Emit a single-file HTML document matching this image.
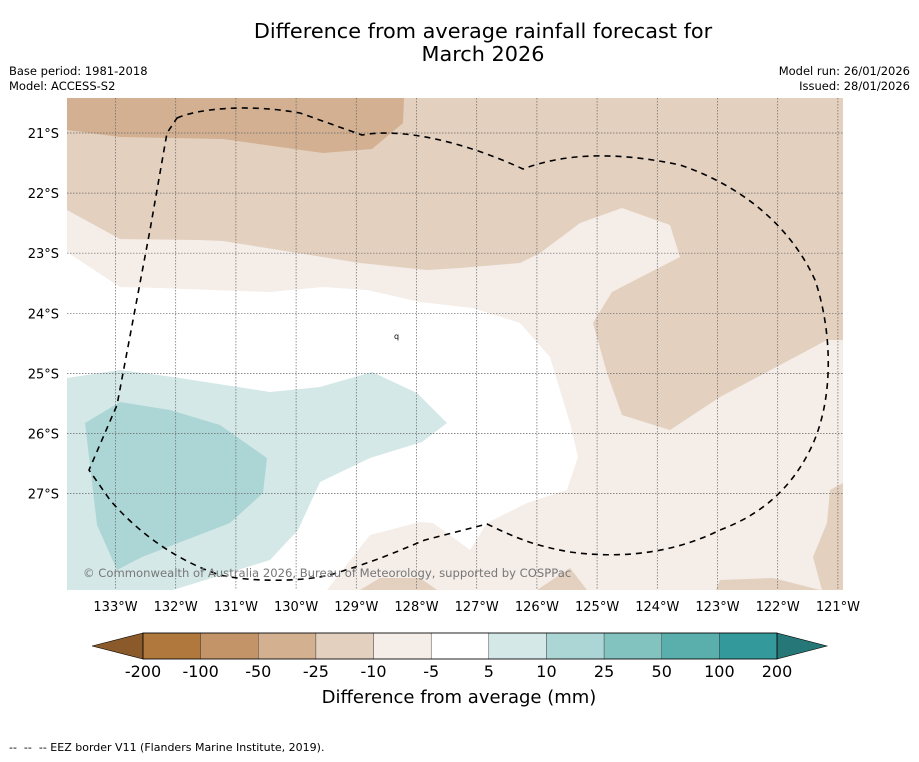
<!DOCTYPE html>
<html><head><meta charset="utf-8"><style>
body{margin:0;background:#fff;font-family:"DejaVu Sans","Liberation Sans",sans-serif;}
svg text{font-family:"DejaVu Sans","Liberation Sans",sans-serif;}
</style></head><body>
<svg id="chart" width="919" height="758" viewBox="0 0 919 758" xmlns="http://www.w3.org/2000/svg">
<rect width="919" height="758" fill="#fff"/>
<text x="483" y="38" font-size="20.8" text-anchor="middle">Difference from average rainfall forecast for</text>
<text x="483" y="61" font-size="20.8" text-anchor="middle">March 2026</text>
<text x="9" y="75" font-size="11.5">Base period: 1981-2018</text>
<text x="9" y="90" font-size="11.5">Model: ACCESS-S2</text>
<text x="910" y="75" font-size="11.5" text-anchor="end">Model run: 26/01/2026</text>
<text x="910" y="90" font-size="11.5" text-anchor="end">Issued: 28/01/2026</text>
<defs><clipPath id="mc"><rect x="67" y="98" width="776" height="492"/></clipPath></defs>
<g id="map" clip-path="url(#mc)">
<rect x="67" y="98" width="776" height="492" fill="#f4ede8"/>
<polygon fill="#e3d0bf" points="67,98 843,98 843,340 827,340 720,397 670,430 622,415 607,373 593,323 612,292 680,257 670,225 622,208 580,223 540,253 520,263 460,268 427,270 360,263 223,241 200,240 120,239 67,210"/>
<polygon fill="#d2b091" points="67,98 404,98 403,123 372,149 323,153 223,139 120,137 67,130"/>
<polygon fill="#ffffff" points="67,252 120,287 160,288 270,292 323,287 367,290 420,302 473,308 520,323 550,357 570,423 578,457 567,490 527,503 487,523 470,550 433,523 420,522 370,535 327,590 67,590"/>
<polygon fill="#d4e8e7" points="67,378 120,370 173,377 270,392 320,387 372,372 417,393 447,423 422,442 370,458 320,482 298,530 270,560 173,590 67,590"/>
<polygon fill="#acd6d5" points="85,423 120,402 170,410 220,425 267,458 263,493 230,523 142,557 117,570 97,525"/>
<polygon fill="#e3d0bf" points="360,590 380,578 420,578 437,590"/>
<polygon fill="#e3d0bf" points="537,590 570,568 587,590"/>
<polygon fill="#e3d0bf" points="716,590 720,580 773,578 820,590"/>
<polygon fill="#e3d0bf" points="843,483 830,490 827,523 813,557 822,590 843,590"/>
<g id="grid"></g>
<path fill="none" stroke="#000" stroke-width="1.6" stroke-dasharray="6,5" d="M177,118 C200,108 250,104 300,113 L362,135 C400,128 460,140 523,169 C560,155 610,150 680,165 C740,185 790,225 815,280 C832,330 835,400 810,450 C790,490 760,515 720,530 C680,550 630,560 570,552 C530,545 510,535 487,524 L425,540 C400,550 385,558 330,575 C300,582 250,582 220,575 C180,562 140,535 110,500 L89,470 L117,405 L150,230 L167,133 Z"/>
<text x="394" y="339" font-size="8">q</text>
<text x="83" y="577" font-size="11.6" fill="#777">© Commonwealth of Australia 2026, Bureau of Meteorology, supported by COSPPac</text>
</g>
<g id="axes"></g>
<g id="cbar"></g>
<text x="459" y="703" font-size="18" text-anchor="middle">Difference from average (mm)</text>
<text x="9" y="751" font-size="11" xml:space="preserve" style="white-space:pre">--  --  -- EEZ border V11 (Flanders Marine Institute, 2019).</text>
</svg>
<script>
const lonTicks=[133,132,131,130,129,128,127,126,125,124,123,122,121];
const latTicks=[21,22,23,24,25,26,27];
const levels=["-200","-100","-50","-25","-10","-5","5","10","25","50","100","200"];
const binColors=["#b0783d","#c39468","#d3b08f","#e3d0bf","#f4ede8","#ffffff","#d4e8e7","#acd6d5","#82c2bf","#5aaeab","#33999a"];
const NS="http://www.w3.org/2000/svg";
function mk(t,a,p){const e=document.createElementNS(NS,t);for(const k in a)e.setAttribute(k,a[k]);p.appendChild(e);return e;}
const xLon=l=>115.5+(133-l)*60.2;
const yLat=l=>133+(l-21)*60.1;
const grid=document.getElementById('grid'),axes=document.getElementById('axes'),cb=document.getElementById('cbar');
lonTicks.forEach(l=>{
 const ln=mk('line',{x1:xLon(l),x2:xLon(l),y1:98,y2:590,stroke:'#666','stroke-width':0.7,'stroke-dasharray':'1.5,1.5'},grid);
 
 
 const t=mk('text',{x:xLon(l),y:611,'font-size':13,'text-anchor':'middle'},axes);t.textContent=l+'°W';
 
 
});
latTicks.forEach(l=>{
 const ln=mk('line',{x1:67,x2:843,y1:yLat(l),y2:yLat(l),stroke:'#666','stroke-width':0.7,'stroke-dasharray':'1.5,1.5'},grid);
 
 
 const t=mk('text',{x:59,y:yLat(l)+5,'font-size':13,'text-anchor':'end'},axes);t.textContent=l+'°S';
 
 
});
const x0=143,x1=777,cy0=633,cy1=659,bw=(x1-x0)/binColors.length;
const la=mk('polygon',{points:`${x0},${cy0} 92,646 ${x0},${cy1}`,fill:'#8b5a2b',stroke:'#000','stroke-width':0.6},cb);


const ra=mk('polygon',{points:`${x1},${cy0} 827,646 ${x1},${cy1}`,fill:'#267878',stroke:'#000','stroke-width':0.6},cb);


binColors.forEach((c,i)=>{
 const r=mk('rect',{x:x0+i*bw,y:cy0,width:bw,height:cy1-cy0,fill:c,stroke:'#333','stroke-width':0.4},cb);
 
 
});
const fr=mk('rect',{x:x0,y:cy0,width:x1-x0,height:cy1-cy0,fill:'none',stroke:'#000','stroke-width':0.8},cb);


levels.forEach((v,i)=>{
 const t=mk('text',{x:x0+i*bw,y:677,'font-size':16,'text-anchor':'middle'},cb);t.textContent=v;
 
 
});
</script>
</body></html>
